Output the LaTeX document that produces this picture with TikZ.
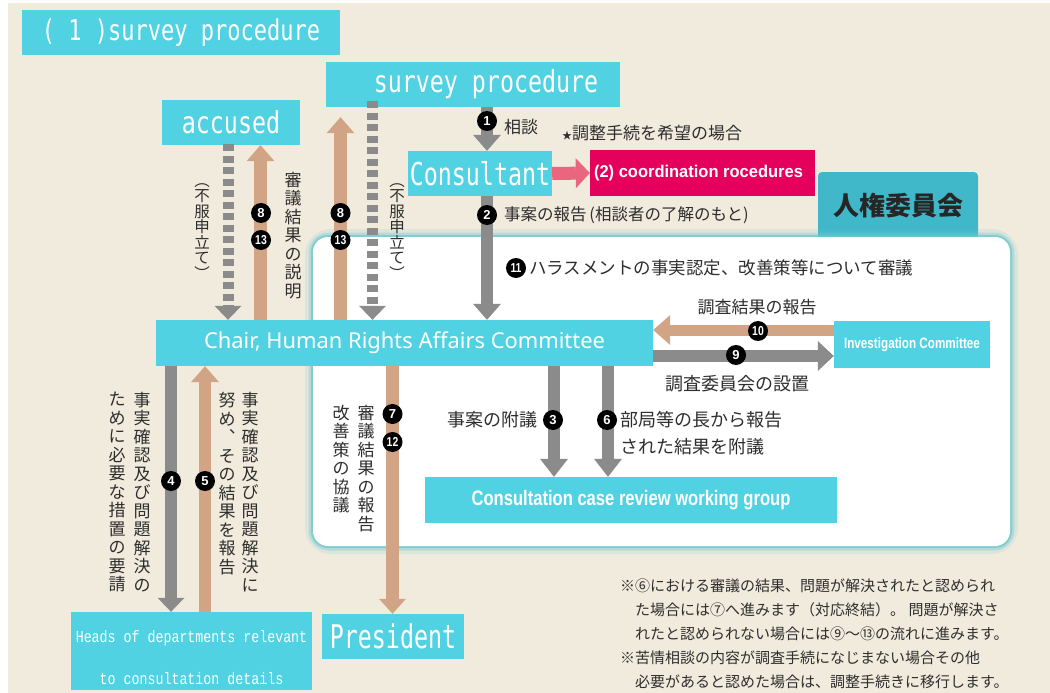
\documentclass[tikz,border=0pt]{standalone}
\usepackage{fontspec}
\usepackage{graphicx}
\usetikzlibrary{arrows.meta}
\newfontfamily\jp{Noto Sans CJK JP}
\newfontfamily\monof{DejaVu Sans Mono}
\newfontfamily\monol{Liberation Mono}
\newfontfamily\arialf{Liberation Sans}
\newfontfamily\notof{Noto Sans}
\definecolor{cyanbox}{HTML}{50D2E2}
\definecolor{redbox}{HTML}{E4005C}
\definecolor{pinkarr}{HTML}{E9667E}
\definecolor{tealbox}{HTML}{40B8CA}
\definecolor{arrgray}{HTML}{8B8B8B}
\definecolor{arrtan}{HTML}{D1A486}
\definecolor{cream}{HTML}{F1EBDE}
\definecolor{glow}{HTML}{6CC8D0}
\definecolor{darktext}{HTML}{2E2E2E}
\begin{document}
\begin{tikzpicture}[x=1pt,y=-1pt,
  box/.style={fill=cyanbox, text=white, inner sep=0pt, align=center},
  mono/.style={font=\monof\fontsize{23.3}{26}\selectfont},
  badge/.style={circle, fill=black, text=white, inner sep=0pt, minimum size=20pt, font=\arialf\bfseries\fontsize{13}{13}\selectfont},
  jtext/.style={font=\jp\fontsize{17}{20}\selectfont, text=darktext, inner sep=0pt},
  ntext/.style={font=\jp\fontsize{15}{18}\selectfont, text=darktext, inner sep=0pt, anchor=west},
  vtext/.style={font=\jp\fontsize{17}{18.5}\selectfont, text=darktext, inner sep=0pt, align=center, anchor=north},
  vsmall/.style={font=\jp\fontsize{15.5}{15.5}\selectfont, text=darktext, inner sep=0pt, align=center, anchor=north},
  garrow/.style={draw=arrgray, line width=12.5pt, -{Triangle[width=28pt,length=16pt,line width=0pt]}},
  tarrow/.style={draw=arrtan, line width=12.5pt, -{Triangle[width=28pt,length=16pt,line width=0pt]}},
  darrow/.style={draw=arrgray, line width=11pt, dash pattern=on 7pt off 4.5pt, -{Triangle[width=27pt,length=14pt,line width=0pt]}},
]
\useasboundingbox (0,0) rectangle (1050,693);
\fill[white] (0,0) rectangle (1050,693);
\fill[cream] (8,3) rectangle (1050,693);

% Human rights committee tab (behind panel)
\node[fill=tealbox, rounded corners=4pt, minimum width=160pt, minimum height=68pt, inner sep=0pt,
      font=\jp\bfseries\fontsize{26}{28}\selectfont, text=black!85] (jinken) at (898,206) {人権委員会};

% panel with glow
\draw[glow, line width=16pt, opacity=0.15, rounded corners=18pt] (313,237) rectangle (1010,546);
\draw[glow, line width=9pt, opacity=0.35, rounded corners=16pt] (313,237) rectangle (1010,546);
\draw[glow, line width=4pt, opacity=0.7, rounded corners=15pt] (313,237) rectangle (1010,546);
\fill[white, rounded corners=15pt] (313,237) rectangle (1010,546);

% boxes
\node[box, minimum width=318pt, minimum height=45pt, font=\monof\fontsize{22}{26}\selectfont] (title) at (181,32.5) {\scalebox{1}[1.3]{( 1 )survey procedure}};
\node[box, mono, minimum width=294pt, minimum height=45pt] (survey) at (473,84.5) {\hspace*{26pt}\scalebox{1}[1.3]{survey procedure}};
\node[box, mono, minimum width=138pt, minimum height=45pt] (accused) at (231,122.5) {\scalebox{1}[1.3]{accused}};
\node[box, mono, minimum width=144pt, minimum height=45pt] (consult) at (480,173.5) {\scalebox{1}[1.35]{Consultant}};
\node[fill=redbox, text=white, inner sep=0pt, minimum width=225pt, minimum height=46pt,
      font=\arialf\bfseries\fontsize{17}{20}\selectfont] (coord) at (702.5,173) {\scalebox{0.97}[1]{(2) coordination rocedures}\hspace*{8pt}};
\node[box, minimum width=497pt, minimum height=46pt, font=\notof\fontsize{21.9}{24}\selectfont] (chair) at (404.5,343) {Chair, Human Rights Affairs Committee};
\node[box, minimum width=156pt, minimum height=47pt, font=\arialf\bfseries\fontsize{15}{18}\selectfont] (invest) at (912,344.5) {\scalebox{0.78}[1]{Investigation Committee}};
\node[box, minimum width=412pt, minimum height=46pt, font=\arialf\bfseries\fontsize{21}{24}\selectfont] (ccrwg) at (631,500) {\scalebox{0.79}[1]{Consultation case review working group}};
\node[box, minimum width=241pt, minimum height=78pt, font=\monol\fontsize{13.3}{42}\selectfont] (heads) at (191.5,651) {\rule{0pt}{25pt}\scalebox{1}[1.25]{Heads of departments relevant}\\\scalebox{1}[1.25]{to consultation details}};
\node[box, mono, minimum width=142pt, minimum height=45pt] (president) at (393,636.5) {\scalebox{1}[1.4]{President}};

% helper coordinates
\coordinate (xa) at (228,0);
\coordinate (xb) at (260.5,0);
\coordinate (xc) at (340.5,0);
\coordinate (xd) at (372.5,0);
\coordinate (xe) at (487,0);
\coordinate (xf) at (171,0);
\coordinate (xg) at (205,0);
\coordinate (xh) at (392.5,0);
\coordinate (xi) at (554,0);
\coordinate (xj) at (608,0);
\coordinate (ya) at (0,330);
\coordinate (yb) at (0,356);

% connectors
\draw[garrow] (survey.south -| xe) -- (consult.north -| xe);
\draw[garrow] (consult.south -| xe) -- (chair.north -| xe);
\draw[draw=pinkarr, line width=13pt, -{Triangle[width=30pt,length=14pt,line width=0pt]}] (consult.east) -- (coord.west);
\draw[darrow] ([yshift=1pt]accused.south -| xa) -- (chair.north -| xa);
\draw[tarrow] (chair.north -| xb) -- (accused.south -| xb);
\draw[tarrow, shorten >=10pt] (chair.north -| xc) -- (survey.south -| xc);
\draw[darrow] ([yshift=6pt]survey.south -| xd) -- (chair.north -| xd);
\draw[garrow, -{Triangle[width=27pt,length=14pt,line width=0pt]}] (chair.south -| xf) -- (heads.north -| xf);
\draw[tarrow] (heads.north -| xg) -- (chair.south -| xg);
\draw[tarrow, -{Triangle[width=27pt,length=15pt,line width=0pt]}] (chair.south -| xh) -- (president.north -| xh);
\draw[garrow, -{Triangle[width=28pt,length=18pt,line width=0pt]}] (chair.south -| xi) -- (ccrwg.north -| xi);
\draw[garrow, -{Triangle[width=28pt,length=18pt,line width=0pt]}] (chair.south -| xj) -- (ccrwg.north -| xj);
\draw[draw=arrtan, line width=11pt, -{Triangle[width=30pt,length=17pt,line width=0pt]}] (invest.west |- ya) -- (chair.east |- ya);
\draw[draw=arrgray, line width=12pt, -{Triangle[width=30pt,length=16pt,line width=0pt]}] (chair.east |- yb) -- (invest.west |- yb);

% badges
\node[badge] (b1) at (487,121) {1};
\node[badge] (b2) at (487,215) {2};
\node[badge] (b11) at (516,268) {\scalebox{0.8}[1]{11}};
\node[badge] (b8a) at (261,213) {8};
\node[badge] (b13a) at (261,240) {\scalebox{0.8}[1]{13}};
\node[badge] (b8b) at (340.5,213) {8};
\node[badge] (b13b) at (340.5,240) {\scalebox{0.8}[1]{13}};
\node[badge] (b4) at (171,481) {4};
\node[badge] (b5) at (205,481) {5};
\node[badge] (b7) at (392.5,414) {7};
\node[badge] (b12) at (392.5,442) {\scalebox{0.8}[1]{12}};
\node[badge] (b3) at (553,420) {3};
\node[badge] (b6) at (607,420) {6};
\node[badge] (b10) at (758,331) {\scalebox{0.8}[1]{10}};
\node[badge] (b9) at (736,355) {9};

% horizontal labels
\node[jtext, anchor=west] (t1) at (504,127) {相談};
\node[jtext, anchor=west] (tstar) at (562,133) {{\fontsize{10}{10}\selectfont ★}調整手続を希望の場合};
\node[jtext, anchor=west, font=\jp\fontsize{16.5}{20}\selectfont] (t2) at (504,215) {事案の報告\,(相談者の了解のもと)};
\node[jtext, anchor=west, font=\jp\fontsize{17.5}{20}\selectfont] (t11) at (529,268) {ハラスメントの事実認定、改善策等について審議};
\node[jtext] (t10) at (757,307) {調査結果の報告};
\node[jtext, font=\jp\fontsize{18}{20}\selectfont] (t9) at (737,384) {調査委員会の設置};
\node[jtext, anchor=east, font=\jp\fontsize{18}{20}\selectfont] (t3) at (538,420) {事案の附議};
\node[jtext, anchor=west, font=\jp\fontsize{18}{20}\selectfont] (t6a) at (620,420) {部局等の長から報告};
\node[jtext, anchor=west, font=\jp\fontsize{18}{20}\selectfont] (t6b) at (620,447) {された結果を附議};

% vertical labels
\node[vsmall] (v1) at (202,183) {︵\\不\\服\\申\\立\\て\\︶};
\node[vtext] (v2) at (293,172) {審\\議\\結\\果\\の\\説\\明};
\node[vsmall] (v3) at (397,183) {︵\\不\\服\\申\\立\\て\\︶};
\node[vtext] (v4) at (142,392) {事\\実\\確\\認\\及\\び\\問\\題\\解\\決\\の};
\node[vtext] (v5) at (117,392) {た\\め\\に\\必\\要\\な\\措\\置\\の\\要\\請};
\node[vtext] (v6) at (250,392) {事\\実\\確\\認\\及\\び\\問\\題\\解\\決\\に};
\node[vtext] (v7) at (227,392) {努\\め\\︑\\そ\\の\\結\\果\\を\\報\\告};
\node[vtext] (v8) at (366,405) {審\\議\\結\\果\\の\\報\\告};
\node[vtext] (v9) at (341,405) {改\\善\\策\\の\\協\\議};

% notes
\node[ntext] (n1) at (620,586) {※⑥における審議の結果、問題が解決されたと認められ};
\node[ntext] (n2) at (635,610) {た場合には⑦へ進みます（対応終結）。 問題が解決さ};
\node[ntext] (n3) at (635,634) {れたと認められない場合には⑨〜⑬の流れに進みます。};
\node[ntext] (n4) at (620,658) {※苦情相談の内容が調査手続になじまない場合その他};
\node[ntext] (n5) at (635,682) {必要があると認めた場合は、調整手続きに移行します。};
\end{tikzpicture}
\end{document}
